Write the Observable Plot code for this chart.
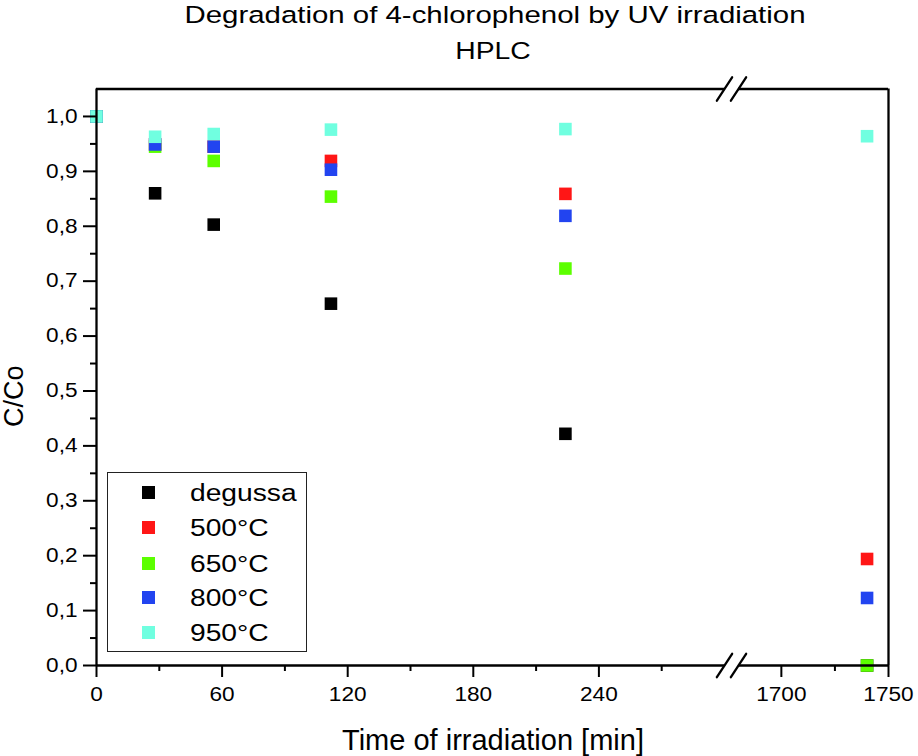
<!DOCTYPE html>
<html>
<head>
<meta charset="utf-8">
<script src="https://cdn.jsdelivr.net/npm/d3@7"></script>
<script src="https://cdn.jsdelivr.net/npm/@observablehq/plot@0.6"></script>
<style>
  html, body { margin: 0; padding: 0; background: #fff; }
  #wrap { position: relative; width: 918px; height: 756px; font-family: "Liberation Sans", Arial, sans-serif; color: #000; overflow: hidden; }
  #chart { position: absolute; left: 0; top: 0; }
  .t { position: absolute; white-space: nowrap; line-height: 1; }
  #legend { position: absolute; left: 107px; top: 472px; width: 200px; height: 180px; border: 1px solid #222; box-sizing: border-box; }
  .sw { position: absolute; left: 34px; width: 13px; height: 13px; }
  .lab { position: absolute; left: 82px; font-size: 23.5px; line-height: 1; white-space: nowrap; transform-origin: 0 50%; transform: scaleX(1.2); }
</style>
</head>
<body>
<div id="wrap">
  <div id="chart"></div>
  <div class="t" style="left:495px;top:3.3px;font-size:24.5px;transform:translateX(-50%) scaleX(1.2);">Degradation of 4-chlorophenol by UV irradiation</div>
  <div class="t" style="left:493px;top:38.6px;font-size:24.5px;transform:translateX(-50%) scaleX(1.155);">HPLC</div>
  <div class="t" style="left:493px;top:725.5px;font-size:29px;transform:translateX(-50%);">Time of irradiation [min]</div>
  <div class="t" style="left:0.5px;top:427px;font-size:27px;transform-origin:0 0;transform:rotate(-90deg);">C/Co</div>
  <div id="legend"></div>
</div>
<script>
// ---- data ----
const times = [0, 28, 56, 112, 224, 1740];
const series = ["degussa", "500°C", "650°C", "800°C", "950°C"];
const degussa = [1.0, 0.860, 0.803, 0.659, 0.422, 0.0];
const c500    = [1.0, 0.949, 0.945, 0.919, 0.859, 0.194];
const c650    = [1.0, 0.945, 0.919, 0.854, 0.723, 0.0];
const c800    = [1.0, 0.949, 0.945, 0.903, 0.819, 0.123];
const c950    = [1.0, 0.963, 0.968, 0.976, 0.977, 0.964];
const colors  = ["#000000", "#ff1616", "#5cff00", "#2244f0", "#70ffe0"];
const xMajor = [0, 60, 120, 180, 240, 1700, 1750];
const xMinor = [30, 90, 150, 210, 270, 1725];
const yMajor = [0, 0.1, 0.2, 0.3, 0.4, 0.5, 0.6, 0.7, 0.8, 0.9, 1.0];
const yMinor = [0.05, 0.15, 0.25, 0.35, 0.45, 0.55, 0.65, 0.75, 0.85, 0.95];
// broken x axis: segment [0,300] then segment [1680,1750]
const breakLo = 300, breakHi = 1680, xMax = 1750, yMax = 1.05;

const values = [degussa, c500, c650, c800, c950];
const data = [];
series.forEach((s, i) => times.forEach((t, j) => data.push({series: s, time: t, value: values[i][j]})));

// axis-break transform (left segment 628px/300min, gap 14px, right segment 150px/70min)
const kL = 628 / breakLo, kR = 150 / (xMax - breakHi), gap = 14;
const brk = t => t <= breakLo ? t : breakLo + gap / kL + (t - breakHi) * kR / kL;
const unbrk = u => u <= breakLo ? u : breakHi + (u - breakLo - gap / kL) * kL / kR;

const fmt = d => d.toFixed(1).replace(".", ",");
const slash = { draw(ctx, l) { ctx.moveTo(0, 0); ctx.lineTo(0, -l); } };
const breaks = [
  {x: breakLo, y: 0}, {x: breakHi, y: 0},
  {x: breakLo, y: yMax}, {x: breakHi, y: yMax}
];

const chart = Plot.plot({
  width: 918, height: 756,
  marginLeft: 96, marginRight: 30, marginTop: 88.5, marginBottom: 91,
  style: {fontFamily: "'Liberation Sans', Arial, sans-serif", background: "transparent", color: "#000"},
  x: {transform: brk},
  y: {domain: [0, yMax]},
  color: {domain: series, range: colors},
  marks: [
    Plot.dot(data, {x: "time", y: "value", fill: "series", symbol: "square", r: 7.1}),
    // frame pieces
    Plot.ruleX([0, xMax], {y1: 0, y2: yMax, strokeWidth: 2.3}),
    Plot.ruleY([0, yMax], {x1: 0, x2: breakLo, strokeWidth: 2.3}),
    Plot.ruleY([0, yMax], {x1: breakHi, x2: xMax, strokeWidth: 2.3}),
    Plot.vector(breaks, {x: "x", y: "y", length: 28, rotate: 33, anchor: "middle", shape: slash, strokeWidth: 2.3}),
    // axes (axis ticks are given in the broken-axis coordinate, labelled with the real minutes)
    Plot.axisY({ticks: yMajor, tickFormat: fmt, tickSize: 13, tickPadding: 6, fontSize: 19.5, strokeWidth: 2, label: null}),
    Plot.axisY({ticks: yMinor, text: null, tickSize: 6, strokeWidth: 2, label: null}),
    Plot.axisX({ticks: xMajor.map(brk), tickFormat: u => String(Math.round(unbrk(u))), tickSize: 12, tickPadding: 10, fontSize: 19.5, strokeWidth: 2, label: null}),
    Plot.axisX({ticks: xMinor.map(brk), text: null, tickSize: 6, strokeWidth: 2, label: null})
  ]
});
document.getElementById("chart").appendChild(chart);

// widen tick labels horizontally about their anchor (the reference glyphs are wider than Arial)
chart.querySelectorAll("text").forEach(el => {
  let x = parseFloat(el.getAttribute("x"));
  if (!isFinite(x) || /em/.test(el.getAttribute("x") || "")) x = 0;
  const tr = el.getAttribute("transform") || "";
  el.setAttribute("transform", `${tr} translate(${x},0) scale(1.16,1) translate(${-x},0)`.trim());
});

// legend
const leg = document.getElementById("legend");
const rowC = [20, 55, 91, 125, 160];
series.forEach((s, i) => {
  const sw = document.createElement("div");
  sw.className = "sw";
  sw.style.top = (rowC[i] - 6.5 - 1) + "px";
  sw.style.background = colors[i];
  leg.appendChild(sw);
  const lab = document.createElement("div");
  lab.className = "lab";
  lab.style.top = (rowC[i] + 10 - 19.9 - 1) + "px";
  lab.textContent = s;
  leg.appendChild(lab);
});
</script>
</body>
</html>
